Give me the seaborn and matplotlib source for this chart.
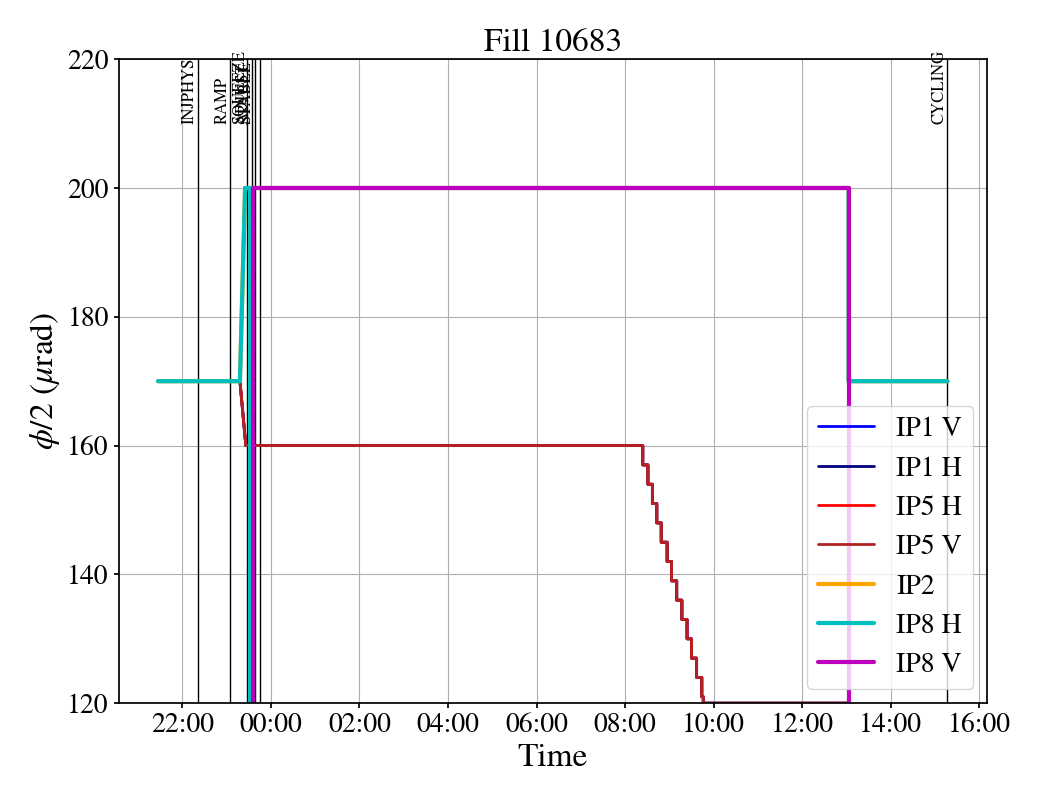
import matplotlib
matplotlib.use('Agg')
import matplotlib.pyplot as plt
import matplotlib.dates as mdates
import seaborn as sns
import pandas as pd

d1 = '2025-06-01 '
d2 = '2025-06-02 '

# IP1 / IP5 crossing angle (all four planes follow the same program)
ip15_start_time = [d1 + '21:27', d1 + '23:18', d1 + '23:26']
ip15_start_val = [170, 170, 160]
# levelling steps during stable beams
step_time = ['08:24', '08:31', '08:37', '08:43', '08:49', '08:57', '09:03',
             '09:10', '09:17', '09:24', '09:30', '09:37', '09:44', '09:46']
step_val = [157, 154, 151, 148, 145, 142, 139, 136, 133, 130, 127, 124, 121, 120]
ip15_end_time = [d2 + '13:03', d2 + '13:03', d2 + '15:17']
ip15_end_val = [120, 170, 170]

ip2_time = [d1 + '21:27', d1 + '23:18', d1 + '23:25', d2 + '13:03', d2 + '13:03', d2 + '15:17']
ip2_val = [170, 170, 200, 200, 170, 170]

ip8h_time = [d1 + '21:27', d1 + '23:18', d1 + '23:25', d1 + '23:32', d1 + '23:32',
             d1 + '23:33', d2 + '13:03', d2 + '13:03', d2 + '15:17']
ip8h_val = [170, 170, 200, 200, 0, 200, 200, 170, 170]

ip8v_time = [d1 + '21:27', d1 + '23:36', d1 + '23:36', d2 + '13:03', d2 + '13:03', d2 + '15:17']
ip8v_val = [-170, -170, 200, 200, -170, -170]

# beam modes
mode_names = ['INJPHYS', 'RAMP', 'SQUEEZE', 'ADJUST', 'STABLE', '', 'CYCLING']
mode_times = [d1 + '22:21', d1 + '23:05', d1 + '23:28', d1 + '23:34', d1 + '23:38',
              d1 + '23:45', d2 + '15:17']


def build_ip15():
    t = list(ip15_start_time)
    v = list(ip15_start_val)
    prev = v[-1]
    for st, sv in zip(step_time, step_val):
        t += [d2 + st, d2 + st]
        v += [prev, sv]
        prev = sv
    t += ip15_end_time
    v += ip15_end_val
    return pd.to_datetime(pd.Series(t)), pd.Series(v)


ip15_t, ip15_v = build_ip15()
series = [
    ('IP1 V', ip15_t, ip15_v, '#0000ff', 2),
    ('IP1 H', ip15_t, ip15_v, '#000080', 2),
    ('IP5 H', ip15_t, ip15_v, '#ff0000', 2),
    ('IP5 V', ip15_t, ip15_v, '#b22222', 2),
    ('IP2', pd.to_datetime(pd.Series(ip2_time)), pd.Series(ip2_val), '#ffa500', 3),
    ('IP8 H', pd.to_datetime(pd.Series(ip8h_time)), pd.Series(ip8h_val), '#00bfbf', 3),
    ('IP8 V', pd.to_datetime(pd.Series(ip8v_time)), pd.Series(ip8v_val), '#bf00bf', 3),
]

sns.set_theme(style='ticks', rc={'axes.edgecolor': 'black', 'xtick.color': 'black',
                                 'ytick.color': 'black', 'text.color': 'black',
                                 'axes.labelcolor': 'black', 'xtick.major.size': 3.5,
                                 'ytick.major.size': 3.5})
plt.rcParams['font.family'] = ['STIXGeneral', 'Liberation Serif', 'DejaVu Serif']
plt.rcParams['mathtext.fontset'] = 'stix'

fig, ax = plt.subplots(figsize=(10.4, 8), dpi=100)
fig.subplots_adjust(left=0.114, right=0.949, bottom=0.121, top=0.926)

for name, t in zip(mode_names, mode_times):
    tt = pd.Timestamp(t)
    ax.axvline(tt, color='black', lw=1)
    if name:
        ax.text(tt, 210, name, rotation=90, ha='right', va='bottom', fontsize=12)

for name, t, v, c, lw in series:
    sns.lineplot(x=t, y=v, color=c, lw=lw, label=name, estimator=None, sort=False, ax=ax)

ax.set_ylim(120, 220)
ax.set_yticks([120, 140, 160, 180, 200, 220])
ax.xaxis.set_major_locator(mdates.HourLocator(byhour=range(0, 24, 2)))
ax.xaxis.set_major_formatter(mdates.DateFormatter('%H:%M'))
ax.grid(True, color='#b0b0b0', linewidth=0.8)
ax.tick_params(labelsize=20)

ax.set_title('Fill 10683', fontsize=24)
ax.set_xlabel('Time', fontsize=24)
ax.set_ylabel(r'$\phi/2$ ($\mu$rad)', fontsize=24)
ax.legend(loc='lower right', fontsize=20, frameon=True, framealpha=0.8)

plt.savefig('out.png', dpi=100)
